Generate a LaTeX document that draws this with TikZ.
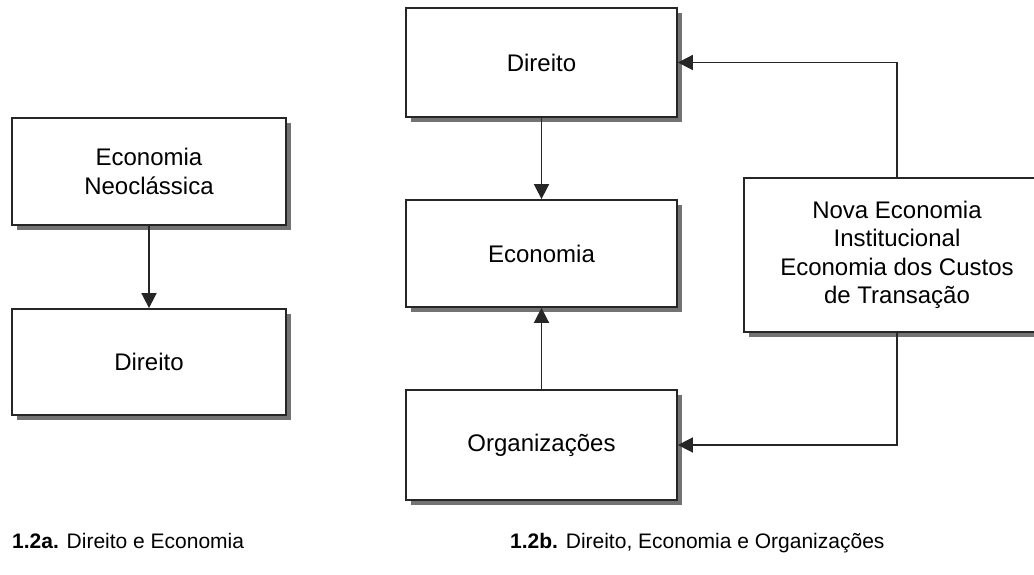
\documentclass[tikz,border=0pt]{standalone}
\usepackage{fontspec}
\setmainfont{Liberation Sans}
\usetikzlibrary{arrows.meta,shadows}

\tikzset{
  caixa/.style={draw=black!85, line width=1.8pt, fill=white,
    minimum width=271pt, align=center,
    font=\fontsize{24}{28.5}\selectfont,
    drop shadow={shadow xshift=5pt, shadow yshift=-5pt, fill=black!55, opacity=1}},
  seta/.style={draw=black!85, line width=1.7pt, -{Triangle[length=15pt,width=15pt]}},
  legenda/.style={anchor=base west, inner sep=0pt, font=\fontsize{21}{24}\selectfont}
}

\begin{document}
\begin{tikzpicture}[x=1pt,y=-1pt]
    \useasboundingbox[fill=white] (0,0) rectangle (1034,575);

    % Draw the boxes of 1.2a
    \node[caixa, minimum width=274pt, minimum height=107pt] (neo) at (149,171.5) {Economia\\Neoclássica};
    \node[caixa, minimum width=274pt, minimum height=106pt] (dirA) at (149,362) {Direito};

    % Draw the boxes of 1.2b
    \node[caixa, minimum height=109pt] (dirB) at (541.5,62.5) {Direito};
    \node[caixa, minimum height=107pt] (eco) at (541.5,253.5) {Economia};
    \node[caixa, minimum height=110pt] (org) at (541.5,445) {Organizações};
    \node[caixa, minimum width=306pt, minimum height=154pt] (nei) at (897,255)
        {Nova Economia\\Institucional\\Economia dos Custos\\de Transação};

    % Draw the arrows
    \draw[seta] (neo) -- (dirA);
    \draw[seta] (dirB) -- (eco);
    \draw[seta] (org) -- (eco);
    \draw[seta] (nei.north) |- (dirB.east);
    \draw[seta] (nei.south) |- (org.east);

    % Captions
    \node[legenda] (capA) at (12,548) {\textbf{1.2a.} Direito e Economia};
    \node[legenda] (capB) at (510,548) {\textbf{1.2b.} Direito, Economia e Organizações};
\end{tikzpicture}
\end{document}
